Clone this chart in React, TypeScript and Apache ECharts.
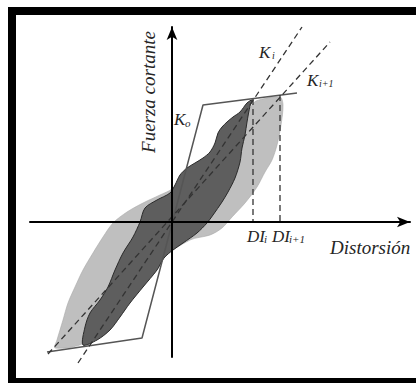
import React, { useEffect, useRef } from "react";
import * as echarts from "echarts";

// Axis extents (schematic units)
const xRange = [-14.2, 23.8];
const yRange = [-13.5, 19.5];

// Inner (dark) hysteresis loop, cycle i
const loopI: number[][] = [
  [8.0, 12.2], [7.8, 11.6], [7.5, 10.0], [7.3, 8.7], [7.0, 7.4], [6.8, 6.0], [6.3, 4.4],
  [5.6, 3.0], [5.0, 2.0], [4.1, 0.7], [3.5, -0.1], [2.5, -1.1], [1.1, -2.1], [0.1, -2.8],
  [-0.8, -3.6], [-1.5, -4.8], [-2.9, -6.5], [-4.2, -8.1], [-5.2, -9.5], [-6.2, -10.8],
  [-7.5, -11.8], [-8.9, -12.3], [-8.7, -10.5], [-8.2, -9.1], [-7.2, -7.8], [-6.4, -6.5],
  [-5.7, -4.8], [-4.9, -3.1], [-3.9, -1.5], [-3.2, 0.0], [-2.7, 1.4], [-1.5, 2.2],
  [-0.2, 2.9], [0.3, 3.7], [0.8, 4.7], [1.5, 5.4], [2.3, 5.9], [3.1, 6.4], [3.8, 7.0],
  [4.3, 7.9], [4.6, 8.9], [5.0, 9.5], [5.5, 10.0], [6.1, 10.5], [6.8, 11.0], [7.5, 11.9],
];

// Outer (light) hysteresis loop, cycle i+1
const loopI1: number[][] = [
  [10.8, 12.5], [11.1, 11.7], [10.9, 9.7], [10.5, 7.7], [10.0, 6.2], [9.3, 5.0], [8.5, 3.5],
  [7.3, 1.9], [6.0, 0.5], [5.0, -0.6], [3.8, -1.3], [1.8, -1.8], [-1.5, -4.0], [-3.2, -6.3],
  [-5.2, -8.3], [-7.2, -10.3], [-9.0, -12.2], [-11.7, -12.6], [-11.5, -11.8], [-11.2, -10.8],
  [-10.9, -9.8], [-10.4, -8.1], [-9.7, -6.5], [-8.9, -4.8], [-7.9, -3.1], [-6.9, -1.5],
  [-5.9, -0.1], [-4.5, 1.0], [-2.9, 1.9], [-1.2, 2.7], [0.0, 3.3], [1.8, 5.0], [4.8, 7.7],
  [6.3, 9.7], [7.8, 11.4], [8.4, 12.1],
];

// Elasto-plastic envelope with initial stiffness Ko
const envelope: number[][] = [[-12.5, -13.0], [-3.0, -11.6], [3.1, 11.7], [12.5, 12.9]];
// Secant stiffness lines
const lineKi: number[][] = [[-9.4, -14.1], [13.0, 19.5]];
const lineKi1: number[][] = [[-12.4, -13.2], [15.8, 18.0]];
// Distortion markers DIi and DIi+1
const dropDIi: number[][] = [[8.1, 12.3], [8.1, 0]];
const dropDIi1: number[][] = [[10.8, 12.7], [10.8, 0]];

const FONT = "Liberation Serif";
const TXT = "#262626";

function txt(text: string, x: number, y: number, size: number, extra: any = {}) {
  return {
    type: "text",
    x,
    y,
    z: 20,
    silent: true,
    ...extra,
    style: {
      text,
      fill: TXT,
      fontFamily: FONT,
      fontStyle: "italic",
      fontSize: size,
      textAlign: "left",
      textVerticalAlign: "bottom",
      ...(extra.style || {}),
    },
  };
}

function loopSeries(name: string, pts: number[][], fill: string, stroke: string, lw: number, z: number) {
  return {
    type: "custom",
    name,
    coordinateSystem: "cartesian2d",
    data: [[0, 0]],
    z,
    silent: true,
    clip: false,
    renderItem: (_p: any, api: any) => ({
      type: "polygon",
      shape: { points: pts.map((p) => api.coord(p)), smooth: 0.3 },
      style: { fill, stroke, lineWidth: lw },
    }),
  };
}

function lineSeries(name: string, data: number[][], color: string, width: number, dashed: boolean, z: number) {
  return {
    type: "line",
    name,
    data,
    symbol: "none",
    showSymbol: false,
    clip: false,
    silent: true,
    z,
    lineStyle: { color, width, type: dashed ? [6, 4] : "solid" },
  };
}

const axisCommon = {
  type: "value",
  z: 10,
  axisLine: {
    onZero: true,
    symbol: ["none", "arrow"],
    symbolSize: [8, 13],
    lineStyle: { color: "#000", width: 2 },
  },
  axisTick: { show: false },
  axisLabel: { show: false },
  splitLine: { show: false },
};

export default function App() {
  const ref = useRef<HTMLDivElement>(null);
  useEffect(() => {
    if (!ref.current) return;
    const chart = echarts.init(ref.current, undefined, { renderer: "svg" });
    chart.setOption({
      animation: false,
      backgroundColor: "#fff",
      grid: { left: 30, top: 27, width: 380, height: 330 },
      xAxis: { ...axisCommon, min: xRange[0], max: xRange[1] },
      yAxis: { ...axisCommon, min: yRange[0], max: yRange[1] },
      series: [
        loopSeries("Ciclo i+1", loopI1, "#bfbfbf", "#a8a8a8", 0.6, 2),
        loopSeries("Ciclo i", loopI, "#5e5e5e", "#2a2a2a", 1, 3),
        lineSeries("Envolvente", envelope, "#555", 1.5, false, 5),
        lineSeries("Ki", lineKi, "#333", 1.3, true, 6),
        lineSeries("Ki+1", lineKi1, "#333", 1.3, true, 6),
        lineSeries("DIi", dropDIi, "#333", 1.3, true, 6),
        lineSeries("DIi+1", dropDIi1, "#333", 1.3, true, 6),
      ],
      graphic: [
        {
          type: "rect",
          z: 30,
          silent: true,
          shape: { x: 12, y: 11, width: 420, height: 371 },
          style: { fill: "none", stroke: "#000", lineWidth: 8 },
        },
        txt("Fuerza cortante", 158, 92, 19, {
          rotation: Math.PI / 2,
          style: { textAlign: "center" },
        }),
        txt("K", 259, 61, 17),
        txt("i", 272, 60, 10),
        txt("K", 307, 89, 17),
        txt("i+1", 319, 88, 10),
        txt("K", 174, 128, 17),
        txt("o", 185, 128, 11),
        txt("DI", 247, 245, 17),
        txt("i", 264, 244, 11),
        txt("DI", 272, 245, 17),
        txt("i+1", 289, 244, 11),
        txt("Distorsión", 330, 257, 19),
      ],
    });
    return () => chart.dispose();
  }, []);
  return (
    <div
      ref={ref}
      style={{ position: "fixed", left: 0, top: 0, width: 416, height: 383, background: "#fff" }}
    />
  );
}
